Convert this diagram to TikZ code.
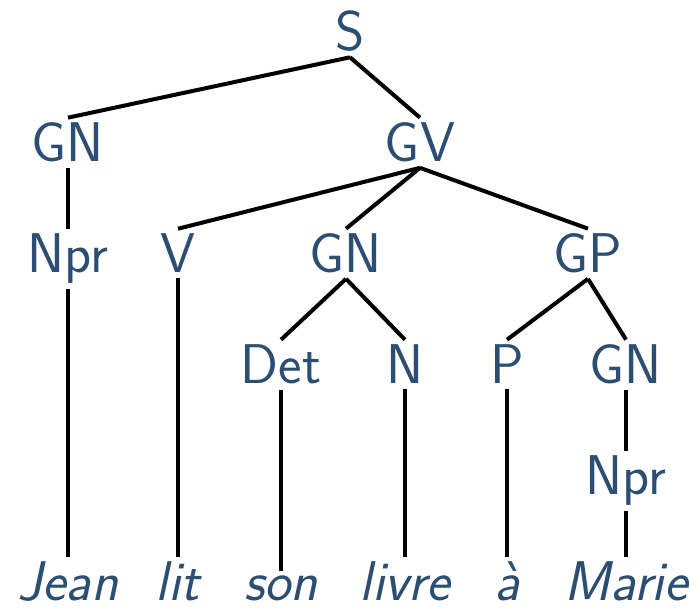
\documentclass[tikz,border=0pt]{standalone}
\usepackage{fontspec}
\usepackage{xcolor}
\usepackage{tikz}

\definecolor{catblue}{RGB}{44,78,115}

\begin{document}
\begin{tikzpicture}[
    x=0.5pt, y=-0.5pt,
    cat/.style={text=catblue, font=\fontsize{28}{32}\selectfont\sffamily, inner sep=2.5pt, anchor=base},
    word/.style={cat, font=\fontsize{28}{32}\selectfont\sffamily\itshape},
    edge/.style={draw, line width=2pt}
]
\useasboundingbox (0,0) rectangle (693,608);

% categories
\node [cat] (s) at (350,51) {S};
\node [cat] (gnA) at (68,162) {GN};
\node [cat] (gv) at (420,162) {GV};
\node [cat] (nprA) at (68,273) {Npr};
\node [cat] (v) at (178,273) {V};
\node [cat] (gnB) at (346,273) {GN};
\node [cat] (gp) at (588,273) {GP};
\node [cat] (det) at (281,384) {Det};
\node [cat] (n) at (405,384) {N};
\node [cat] (p) at (507,384) {P};
\node [cat] (gnC) at (626,384) {GN};
\node [cat] (nprB) at (626,495) {Npr};

% words
\node [word] (jean) at (68,601) {Jean};
\node [word] (lit) at (178,601) {lit};
\node [word] (son) at (281,601) {son};
\node [word] (livre) at (405,601) {livre};
\node [word] (a) at (507,601) {à};
\node [word] (marie) at (626,601) {Marie};

\path [edge] (s.south) -- (gnA.north);
\path [edge] (s.south) -- (gv.north);
\path [edge] (gnA.south) -- (nprA.north);
\path [edge] (gv.south) -- (v.north);
\path [edge] (gv.south) -- (gnB.north);
\path [edge] (gv.south) -- (gp.north);
\path [edge] (gnB.south) -- (det.north);
\path [edge] (gnB.south) -- (n.north);
\path [edge] (gp.south) -- (p.north);
\path [edge] (gp.south) -- (gnC.north);
\path [edge] (gnC.south) -- (nprB.north);

\path [edge] (nprA.south) -- (jean.north);
\path [edge] (v.south) -- (lit.north);
\path [edge] (det.south) -- (son.north);
\path [edge] (n.south) -- (livre.north);
\path [edge] (p.south) -- (a.north);
\path [edge] (nprB.south) -- (marie.north);

\end{tikzpicture}
\end{document}
